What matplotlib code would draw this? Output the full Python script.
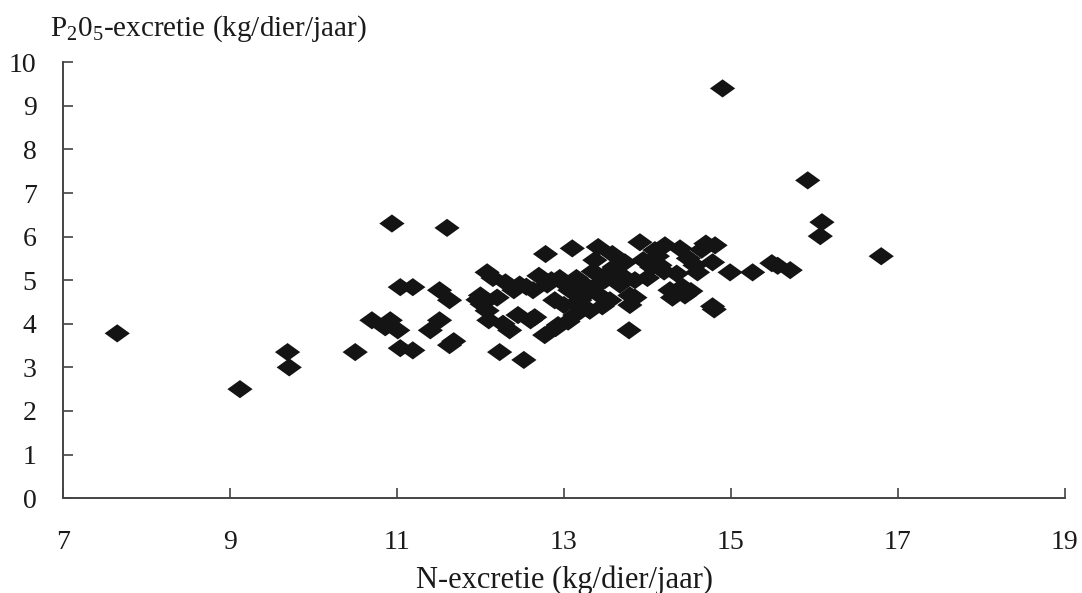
import matplotlib
matplotlib.use('Agg')
from matplotlib import pyplot as plt
from matplotlib.path import Path

# N-excretie (x) en P2O5-excretie (y)
n_excretie = [7.65, 9.12, 9.69, 9.71, 10.5, 10.94, 11.6, 14.9, 15.92, 16.09, 16.07, 16.8,
              15.71, 15.49, 15.56, 15.26, 14.99, 14.78, 14.8, 14.81, 14.7, 14.78, 14.6,
              12.23, 12.52, 13.78, 11.04, 11.19, 11.51, 11.63, 10.92, 11.01, 11.04, 11.19,
              11.4, 11.51, 11.63, 11.68, 10.7, 10.86,
              12.08, 12.0, 11.97, 12.08, 12.1, 12.2, 12.27, 12.35, 12.4, 12.47, 12.63,
              12.6, 12.78, 12.8, 12.77, 12.89, 12.95, 12.93, 13.0, 13.07, 13.1, 13.13,
              13.19, 13.25, 13.31, 13.37, 13.41, 13.43, 13.49, 13.55, 13.61, 13.67, 13.73,
              13.79, 13.79, 13.91, 13.95, 14.0, 14.09, 14.15, 14.21, 14.27, 14.3, 14.45,
              14.49, 14.57, 14.39, 12.15, 12.3, 12.55, 12.7, 12.85, 13.02, 13.15, 13.22,
              13.28, 13.35, 13.46, 13.52, 13.6, 13.7, 13.85, 14.05, 14.12, 14.35, 14.42,
              14.52, 14.65, 12.9, 13.05, 12.45, 12.65, 13.85, 14.2, 12.02, 13.4, 13.58]
p_excretie = [3.78, 2.5, 3.35, 3.0, 3.35, 6.3, 6.2, 9.4, 7.29, 6.33, 6.01, 5.55,
              5.23, 5.39, 5.33, 5.18, 5.18, 4.4, 4.33, 5.8, 5.84, 5.41, 5.18,
              3.35, 3.17, 3.85, 4.84, 4.84, 4.77, 4.54, 4.08, 3.85, 3.44, 3.39,
              3.85, 4.08, 3.51, 3.6, 4.08, 3.92,
              5.18, 4.65, 4.55, 4.3, 4.08, 4.6, 4.0, 3.85, 4.77, 4.9, 4.77,
              4.08, 5.6, 4.9, 3.74, 4.54, 5.05, 3.97, 4.43, 4.77, 5.73, 4.2,
              4.54, 4.9, 4.3, 5.46, 5.76, 4.65, 5.0, 4.54, 5.23, 4.9, 5.41,
              4.65, 4.43, 5.87, 5.46, 5.05, 5.69, 5.34, 5.8, 4.77, 4.6, 4.65,
              5.5, 5.34, 5.73, 5.05, 4.95, 4.85, 5.1, 5.0, 4.9, 5.05, 4.35,
              4.7, 5.2, 4.4, 5.15, 5.3, 5.1, 5.0, 5.3, 5.55, 5.15, 4.85,
              4.75, 5.7, 3.9, 4.05, 4.2, 4.15, 4.6, 5.2, 4.45, 4.9, 5.6]

x_ticks = [7, 9, 11, 13, 15, 17, 19]
y_ticks = list(range(0, 11))

plt.rcParams['font.family'] = ['Liberation Serif', 'DejaVu Serif']
plt.rcParams['mathtext.fontset'] = 'custom'
plt.rcParams['mathtext.rm'] = 'Liberation Serif'
plt.rcParams['mathtext.it'] = 'Liberation Serif:italic'

diamond = Path([(-1, 0), (0, 0.72), (1, 0), (0, -0.72), (-1, 0)],
               [Path.MOVETO, Path.LINETO, Path.LINETO, Path.LINETO, Path.CLOSEPOLY])

fig = plt.figure(figsize=(10.82, 5.93), dpi=100)
ax = fig.add_axes([0.0582, 0.160, 0.926, 0.735])
ax.scatter(n_excretie, p_excretie, marker=diamond, s=330, color='#141414',
           edgecolors='none', clip_on=False)

ax.set_xlim(7, 19)
ax.set_ylim(0, 10)
ax.set_xticks(x_ticks)
ax.set_yticks(y_ticks)
ax.spines['top'].set_visible(False)
ax.spines['right'].set_visible(False)
for s in ['left', 'bottom']:
    ax.spines[s].set_color('#444444')
    ax.spines[s].set_linewidth(1.4)
ax.tick_params(axis='both', direction='in', length=7, width=1.2, color='#444444',
               labelsize=20, labelcolor='#1a1a1a')
ax.tick_params(axis='x', pad=23)
ax.tick_params(axis='y', pad=19)

fig.text(0.046, 0.952, r'P$_2$0$_5$-excretie (kg/dier/jaar)', fontsize=21,
         color='#1a1a1a', va='center', ha='left')
fig.text(0.522, 0.022, 'N-excretie (kg/dier/jaar)', fontsize=22,
         color='#1a1a1a', va='center', ha='center')

plt.savefig('out.png', dpi=100)
